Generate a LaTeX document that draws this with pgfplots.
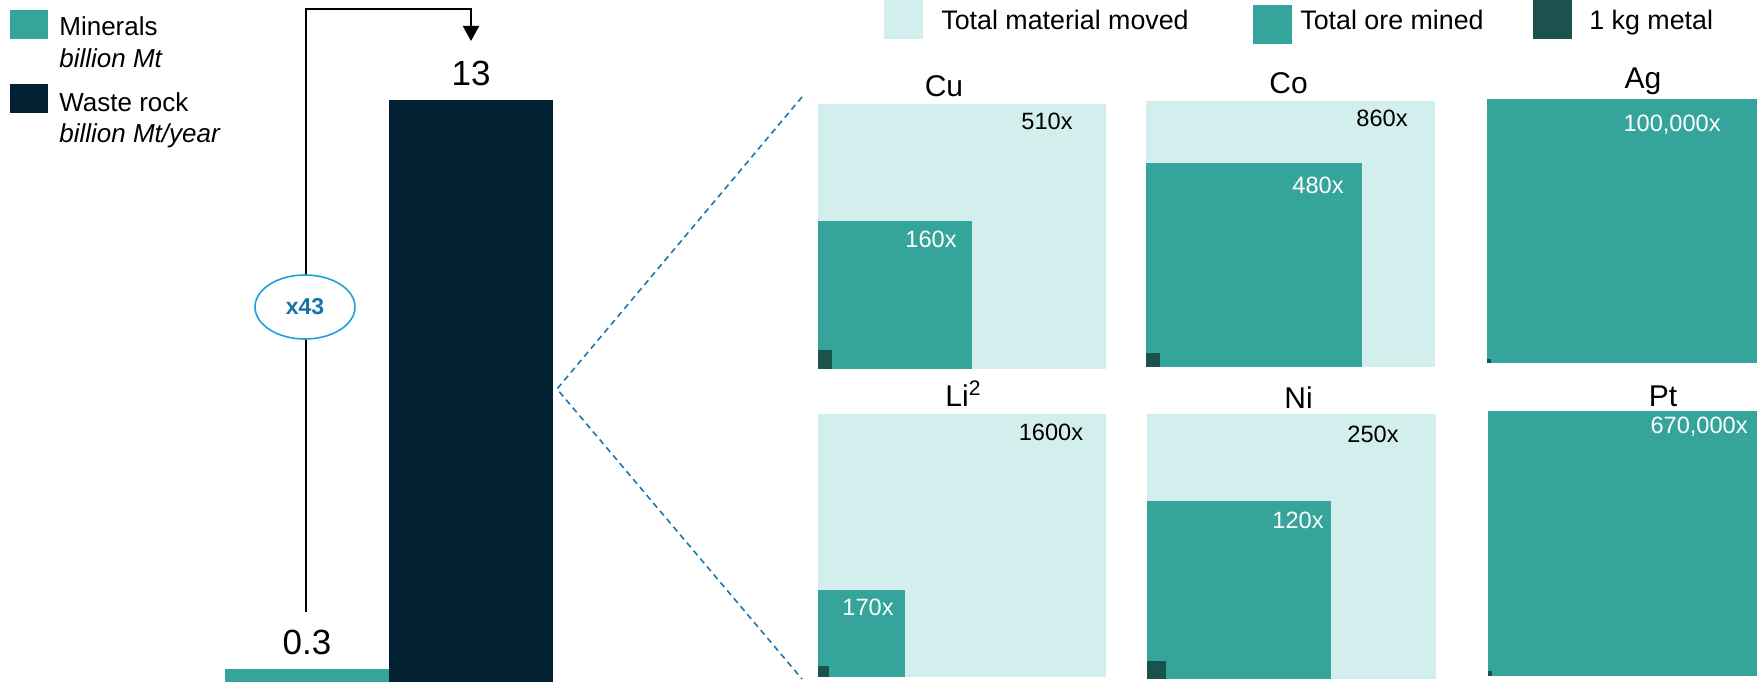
\documentclass[border=0pt]{standalone}
\usepackage{fontspec}
\setmainfont{Liberation Sans}
\usepackage{pgfplots}
\pgfplotsset{compat=1.18}
\usetikzlibrary{arrows.meta}
\definecolor{lightteal}{RGB}{210,239,237}
\definecolor{oreteal}{RGB}{53,164,154}
\definecolor{metalc}{RGB}{27,82,77}
\definecolor{navy}{RGB}{2,34,51}
\definecolor{ringblue}{RGB}{30,160,220}
\definecolor{textblue}{RGB}{24,115,168}
\definecolor{dashblue}{RGB}{26,120,175}
\newcommand\legfont{\fontsize{13bp}{15.6bp}\selectfont}
\newcommand\toplegfont{\fontsize{13.4bp}{16bp}\selectfont}
\newcommand\titlefont{\fontsize{15bp}{18bp}\selectfont}
\newcommand\valfont{\fontsize{11.8bp}{14bp}\selectfont}
\newcommand\barfont{\fontsize{17.5bp}{21bp}\selectfont}
\newcommand\rect[5]{\addplot[draw=none, fill=#1] coordinates {(#2,#3) (#4,#3) (#4,#5) (#2,#5)} --cycle;}
\begin{document}
\begin{tikzpicture}
\useasboundingbox (0,0) rectangle (878.5bp,341bp);
% ---------- bar chart ----------
\begin{axis}[at={(112.5bp,0)}, anchor=south west, scale only axis,
  width=164bp, height=291bp, xmin=-0.5, xmax=1.5, ymin=0, ymax=13,
  hide axis, clip=false, ybar, bar width=1,
  nodes near coords, point meta=explicit symbolic,
  every node near coord/.append style={font=\barfont, anchor=base, yshift=7bp}]
\addplot[fill=oreteal, draw=none, bar shift=0] coordinates {(0,0.3) [0.3]};
\addplot[fill=navy, draw=none, bar shift=0] coordinates {(1,13) [13]};
\end{axis}
% ---------- layout axis (pixel units) ----------
\begin{axis}[at={(0,0)}, anchor=south west, scale only axis,
  width=878.5bp, height=341bp, xmin=0, xmax=1757, ymin=0, ymax=682,
  y dir=reverse, hide axis, clip=false]
% left legend
\rect{oreteal}{10}{10}{48}{39}
\rect{navy}{10}{84}{48}{113}
% top legend
\rect{lightteal}{884}{0}{923}{39}
\rect{oreteal}{1253}{5}{1292}{44}
\rect{metalc}{1533}{0}{1572}{39}
% Cu
\rect{lightteal}{818}{104}{1106}{369}
\rect{oreteal}{818}{221}{972}{369}
\rect{metalc}{818}{350}{832}{369}
% Co
\rect{lightteal}{1146}{101}{1435}{367}
\rect{oreteal}{1146}{163}{1362}{367}
\rect{metalc}{1146}{353}{1160}{367}
% Ag
\rect{oreteal}{1487}{99}{1757}{363}
\rect{metalc}{1487}{359}{1491}{363}
% Li
\rect{lightteal}{818}{414}{1106}{677}
\rect{oreteal}{818}{590}{905}{677}
\rect{metalc}{818}{666}{829}{677}
% Ni
\rect{lightteal}{1147}{414}{1436}{679}
\rect{oreteal}{1147}{501}{1331}{679}
\rect{metalc}{1147}{661}{1166}{679}
% Pt
\rect{oreteal}{1488}{411}{1757}{676}
\rect{metalc}{1488}{671}{1492}{676}
% legend texts
\node[anchor=base west, inner sep=0, font=\legfont] at (axis cs:59,35.5) {Minerals};
\node[anchor=base west, inner sep=0, font=\legfont\itshape] at (axis cs:59,67) {billion Mt};
\node[anchor=base west, inner sep=0, font=\legfont] at (axis cs:59,111) {Waste rock};
\node[anchor=base west, inner sep=0, font=\legfont\itshape] at (axis cs:59,142) {billion Mt/year};
\node[anchor=base west, inner sep=0, font=\toplegfont] at (axis cs:941,30) {Total material moved};
\node[anchor=base west, inner sep=0, font=\toplegfont] at (axis cs:1300,29.5) {Total ore mined};
\node[anchor=base west, inner sep=0, font=\toplegfont] at (axis cs:1589,29.5) {1 kg metal};
% titles
\node[anchor=base, inner sep=0, font=\titlefont] at (axis cs:944,96) {Cu};
\node[anchor=base, inner sep=0, font=\titlefont] at (axis cs:1288.5,93) {Co};
\node[anchor=base, inner sep=0, font=\titlefont] at (axis cs:1643,88) {Ag};
\node[anchor=base west, inner sep=0, font=\titlefont] at (axis cs:945,406) {Li\textsuperscript{2}};
\node[anchor=base, inner sep=0, font=\titlefont] at (axis cs:1298.5,408) {Ni};
\node[anchor=base, inner sep=0, font=\titlefont] at (axis cs:1663,406) {Pt};
% values
\node[anchor=base east, inner sep=0, font=\valfont] at (axis cs:1073,129) {510x};
\node[anchor=base east, inner sep=0, font=\valfont, text=white] at (axis cs:957,247) {160x};
\node[anchor=base east, inner sep=0, font=\valfont] at (axis cs:1408,126) {860x};
\node[anchor=base east, inner sep=0, font=\valfont, text=white] at (axis cs:1344,193) {480x};
\node[anchor=base east, inner sep=0, font=\valfont, text=white] at (axis cs:1721,131) {100,000x};
\node[anchor=base east, inner sep=0, font=\valfont] at (axis cs:1083.5,440) {1600x};
\node[anchor=base east, inner sep=0, font=\valfont, text=white] at (axis cs:894,615) {170x};
\node[anchor=base east, inner sep=0, font=\valfont] at (axis cs:1399,442) {250x};
\node[anchor=base east, inner sep=0, font=\valfont, text=white] at (axis cs:1324,528) {120x};
\node[anchor=base east, inner sep=0, font=\valfont, text=white] at (axis cs:1748,433) {670,000x};
% bracket
\draw[line width=1bp, -{Triangle[width=8bp,length=7.5bp]}] (axis cs:306,612) -- (axis cs:306,9) -- (axis cs:471,9) -- (axis cs:471,41);
\draw[ringblue, line width=0.8bp, fill=white] (axis cs:305,307) ellipse [x radius=25bp, y radius=16bp];
\node[font=\fontsize{11.5bp}{14bp}\selectfont\bfseries, text=textblue] at (axis cs:305,307) {x43};
% dashed connector
\draw[dashblue, line width=0.8bp, dash pattern=on 3bp off 2.2bp] (axis cs:802,97) -- (axis cs:557,389) -- (axis cs:802,679);
\end{axis}
\end{tikzpicture}
\end{document}
